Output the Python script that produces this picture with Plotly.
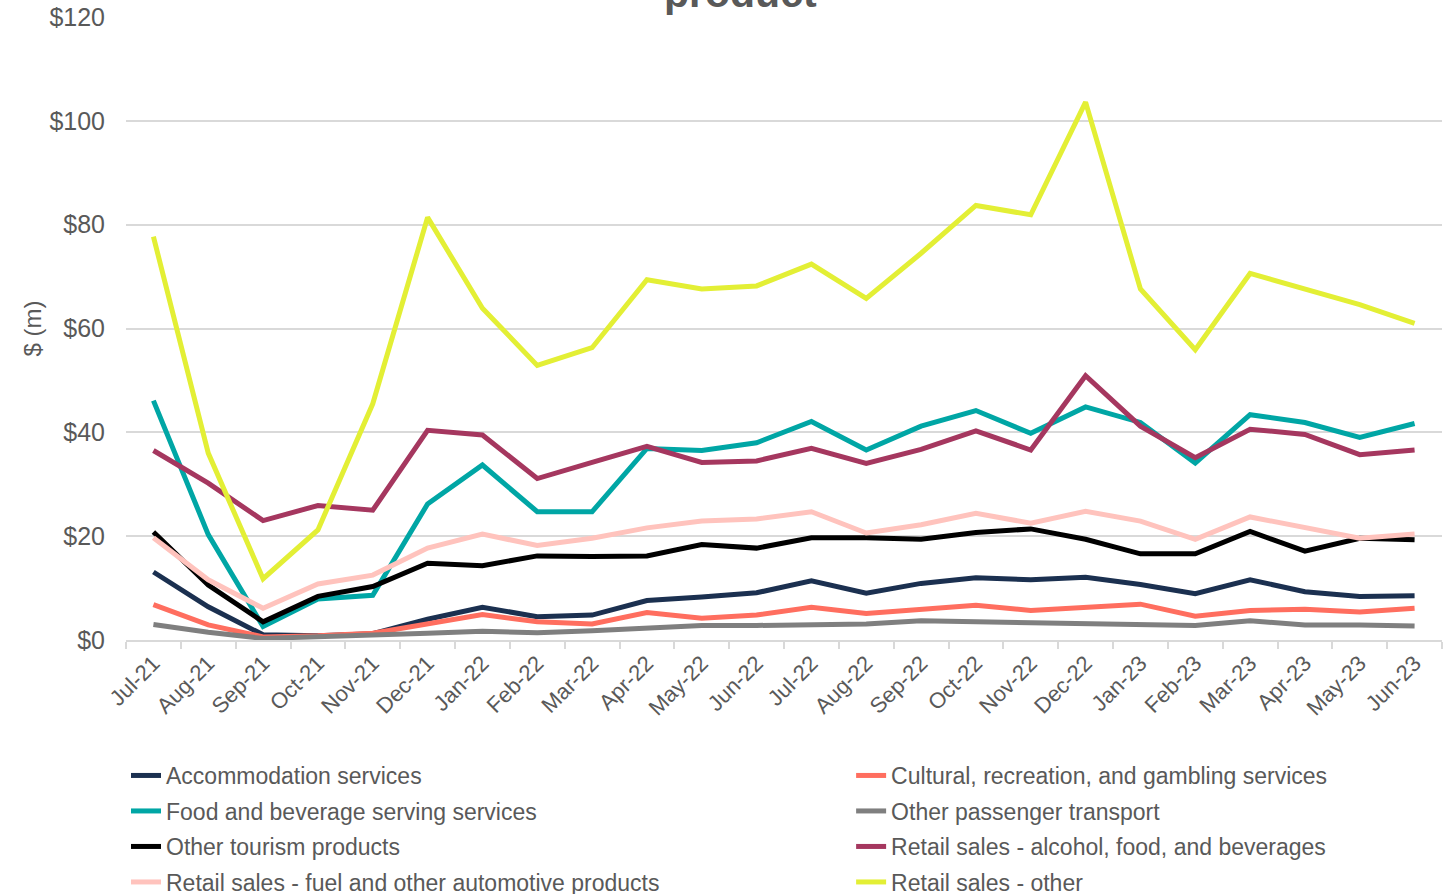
import plotly.graph_objects as go

months = ["Jul-21", "Aug-21", "Sep-21", "Oct-21", "Nov-21", "Dec-21",
          "Jan-22", "Feb-22", "Mar-22", "Apr-22", "May-22", "Jun-22",
          "Jul-22", "Aug-22", "Sep-22", "Oct-22", "Nov-22", "Dec-22",
          "Jan-23", "Feb-23", "Mar-23", "Apr-23", "May-23", "Jun-23"]

accommodation = [13.1, 6.4, 1.0, 0.8, 1.2, 4.0, 6.3, 4.5, 4.8, 7.6, 8.3, 9.1,
                 11.4, 9.0, 10.9, 12.0, 11.6, 12.1, 10.7, 8.9, 11.6, 9.3, 8.4, 8.5]
cultural = [6.8, 2.9, 0.6, 0.8, 1.3, 3.2, 4.9, 3.5, 3.1, 5.3, 4.2, 4.8,
            6.3, 5.1, 6.0, 6.7, 5.7, 6.2, 6.9, 4.6, 5.7, 5.9, 5.4, 6.1]
food_beverage = [46.1, 20.3, 2.6, 7.9, 8.6, 26.2, 33.7, 24.7, 24.7, 36.9, 36.5, 38.0,
                 42.1, 36.6, 41.2, 44.2, 39.8, 44.9, 41.9, 34.1, 43.4, 41.9, 39.0, 41.7]
passenger_transport = [3.0, 1.5, 0.3, 0.6, 0.8, 1.3, 1.7, 1.4, 1.8, 2.4, 2.8, 2.8,
                       3.0, 3.1, 3.7, 3.5, 3.4, 3.1, 2.8, 2.8, 3.7, 2.9, 2.9, 2.7]
other_tourism = [20.8, 10.6, 3.5, 8.4, 10.3, 14.8, 14.3, 16.2, 16.1, 16.2, 18.4, 17.7,
                 19.7, 19.7, 19.4, 20.7, 21.4, 19.4, 16.6, 16.6, 20.9, 17.1, 19.6, 19.3]
retail_alcohol = [36.5, 30.2, 23.0, 25.9, 25.0, 40.4, 39.5, 31.1, 34.2, 37.3, 34.2, 34.5,
                  36.9, 34.0, 36.7, 40.3, 36.6, 50.9, 41.2, 35.1, 40.6, 39.6, 35.7, 36.6]
retail_fuel = [19.7, 11.6, 6.1, 10.8, 12.5, 17.7, 20.4, 18.2, 19.6, 21.6, 22.9, 23.3,
               24.7, 20.6, 22.2, 24.4, 22.5, 24.8, 22.9, 19.4, 23.7, 21.6, 19.6, 20.4]
retail_other = [77.7, 36.0, 11.8, 21.2, 45.5, 81.4, 63.9, 52.9, 56.3, 69.4, 67.6, 68.2,
                72.4, 65.8, 74.5, 83.7, 81.9, 103.6, 67.6, 55.9, 70.6, 67.5, 64.6, 61.0]

# (name, values, colour, legend column)
series = [
    ("Accommodation services", accommodation, "#1B3050", "legend"),
    ("Cultural, recreation, and gambling services", cultural, "#FF6E5F", "legend2"),
    ("Food and beverage serving services", food_beverage, "#00A6A5", "legend"),
    ("Other passenger transport", passenger_transport, "#7F7F7F", "legend2"),
    ("Other tourism products", other_tourism, "#000000", "legend"),
    ("Retail sales - alcohol, food, and beverages", retail_alcohol, "#A5375F", "legend2"),
    ("Retail sales - fuel and other automotive products", retail_fuel, "#FFC3BD", "legend"),
    ("Retail sales - other", retail_other, "#E3EF35", "legend2"),
]

TEXT = "#595959"
GRID = "#D9D9D9"
FONT = "Liberation Sans"

fig = go.Figure()
for name, vals, colour, leg in series:
    fig.add_trace(go.Scatter(
        x=months, y=vals, name=name, mode="lines",
        line=dict(color=colour, width=5),
        legend=leg, legendgroup=name,
    ))

legend_common = dict(
    orientation="v", yanchor="top", xanchor="left",
    yref="container",
    font=dict(family=FONT, size=23, color=TEXT),
    tracegroupgap=2.6, bgcolor="rgba(0,0,0,0)",
    itemwidth=30,
)

fig.update_layout(
    width=1448, height=894,
    margin=dict(l=126, r=6, t=17, b=254, autoexpand=False),
    paper_bgcolor="white", plot_bgcolor="white",
    font=dict(family=FONT, color=TEXT),
    showlegend=True,
    legend=dict(x=0.0, y=1 - 754 / 894, **legend_common),
    legend2=dict(x=0.551, y=1 - 754 / 894, **legend_common),
    xaxis=dict(
        type="category", categoryorder="array", categoryarray=months,
        range=[-0.5, len(months) - 0.5], automargin=False,
        tickangle=-45, tickfont=dict(size=22, color=TEXT, family=FONT),
        showline=True, linecolor=GRID, linewidth=1.5,
        ticks="outside", tickson="boundaries", ticklen=7, tickcolor=GRID, tickwidth=1.5,
        showgrid=False,
    ),
    yaxis=dict(
        range=[0, 120], dtick=20, tickprefix="$", automargin=False,
        tickfont=dict(size=25, color=TEXT, family=FONT),
        showgrid=True, gridcolor=GRID, gridwidth=1.5,
        zeroline=False, showline=False, ticks="", ticklabelstandoff=20,
        title=dict(text="$ (m)", font=dict(size=24, color=TEXT, family=FONT), standoff=0),
    ),
)

fig.add_annotation(
    text="<b>product</b>", xref="paper", yref="paper",
    x=0.4666, y=1.0, xanchor="center", yanchor="bottom", yshift=-1,
    showarrow=False, font=dict(family=FONT, size=41, color=TEXT),
)

fig.write_html("out.html")
